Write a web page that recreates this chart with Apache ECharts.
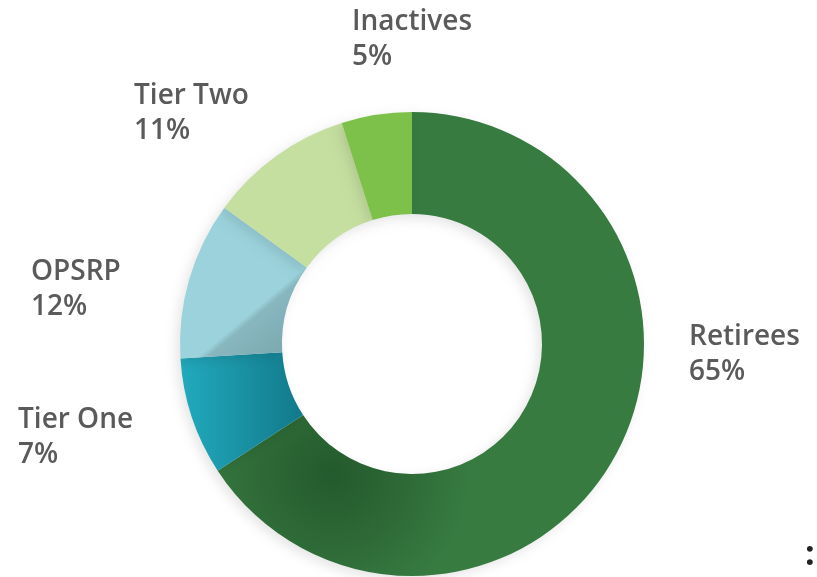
<!DOCTYPE html>
<html>
<head>
<meta charset="utf-8">
<script src="https://cdn.jsdelivr.net/npm/echarts@6/dist/echarts.min.js"></script>
<style>
html,body{margin:0;padding:0;background:#fff;}
#chart{width:817px;height:577px;}
</style>
</head>
<body>
<div id="chart"></div>
<script>
// Data
const categories = ['Retirees', 'Tier One', 'OPSRP', 'Tier Two', 'Inactives'];
// slice shares as drawn (measured from slice angles)
const sliceValues = [65.8, 8.2, 11.0, 10.1, 4.9];
// percentages printed on the labels
const labelPercents = [65, 7, 12, 11, 5];

const colors = [
  new echarts.graphic.RadialGradient(0.27, 0.78, 0.32, [
    {offset: 0, color: '#245a2d'},
    {offset: 0.55, color: '#2e6a37'},
    {offset: 1, color: '#377b41'}
  ]),
  new echarts.graphic.LinearGradient(0, 0, 1, 0, [
    {offset: 0, color: '#22aabd'},
    {offset: 1, color: '#11798a'}
  ]),
  new echarts.graphic.LinearGradient(1, 1, 0, 0, [
    {offset: 0, color: '#76a3aa'},
    {offset: 0.33, color: '#88b7bf'},
    {offset: 0.36, color: '#9bd2db'},
    {offset: 1, color: '#9bd2db'}
  ]),
  '#c5dfa0',
  '#7dc04a'
];

// label anchor positions (left x, block centre y)
const labelPos = [
  [689, 355],
  [18, 438],
  [31, 290],
  [134, 114],
  [352, 40]
];

const chart = echarts.init(document.getElementById('chart'), null, {renderer: 'canvas'});

chart.setOption({
  animation: false,
  backgroundColor: '#ffffff',
  series: [{
    type: 'pie',
    center: [412, 344],
    radius: [130, 232],
    startAngle: 90,
    clockwise: true,
    silent: true,
    itemStyle: {
      shadowBlur: 12,
      shadowColor: 'rgba(0,0,0,0.10)',
      shadowOffsetX: -4,
      shadowOffsetY: 4
    },
    label: {
      show: true,
      position: 'outside',
      formatter: function (p) {
        return p.name + '\n' + labelPercents[p.dataIndex] + '%';
      },
      fontFamily: 'Open Sans',
      fontWeight: 600,
      fontSize: 28,
      lineHeight: 35,
      color: '#5a5a5a',
      align: 'left'
    },
    labelLine: {show: false},
    labelLayout: function (params) {
      const pos = labelPos[params.dataIndex];
      return {
        x: pos[0],
        y: pos[1],
        align: 'left',
        verticalAlign: 'middle',
        hideOverlap: false,
        moveOverlap: null
      };
    },
    data: categories.map(function (name, i) {
      return {name: name, value: sliceValues[i], itemStyle: {color: colors[i]}};
    })
  }],
  graphic: [{
    type: 'text',
    left: 805,
    top: 538,
    style: {
      text: ':',
      font: '700 34px "Open Sans"',
      fill: '#222222'
    }
  }]
});
</script>
</body>
</html>
